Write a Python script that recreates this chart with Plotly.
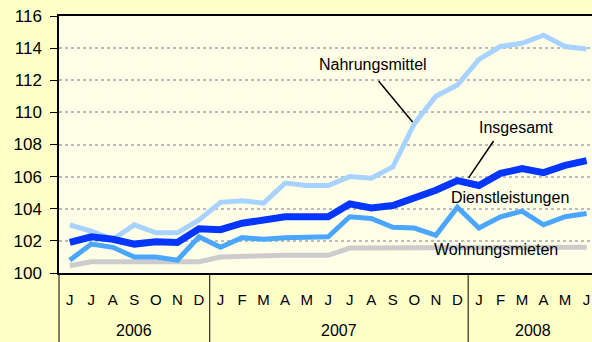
import plotly.graph_objects as go

# Monthly index values, June 2006 to June 2008
months = ["J", "J", "A", "S", "O", "N", "D",
          "J", "F", "M", "A", "M", "J", "J", "A", "S", "O", "N", "D",
          "J", "F", "M", "A", "M", "J"]
years = ["2006", "2007", "2008"]
year_centers = [3, 12.5, 21.5]
year_breaks = [6.5, 18.5]

insgesamt = [101.9, 102.25, 102.1, 101.8, 101.95, 101.9, 102.75,
             102.7, 103.1, 103.35, 103.5, 103.5, 103.5, 104.3, 104.05, 104.2, 104.65, 105.15, 105.75,
             105.45, 106.2, 106.5, 106.25, 106.7, 107.0]
nahrungsmittel = [103.0, 102.6, 102.1, 103.0, 102.5, 102.5, 103.3,
                  104.4, 104.5, 104.35, 105.6, 105.45, 105.45, 106.0, 105.9, 106.6, 109.3, 111.0, 111.7,
                  113.3, 114.1, 114.3, 114.8, 114.1, 113.95]
dienstleistungen = [100.8, 101.8, 101.6, 101.0, 101.0, 100.8, 102.25,
                    101.6, 102.2, 102.1, 102.2, 102.25, 102.25, 103.5, 103.4, 102.85, 102.8, 102.35, 104.1,
                    102.8, 103.5, 103.85, 103.0, 103.5, 103.7]
wohnungsmieten = [100.45, 100.7, 100.7, 100.7, 100.7, 100.7, 100.7,
                  101.0, 101.05, 101.1, 101.1, 101.1, 101.1, 101.55, 101.55, 101.55, 101.55, 101.55, 101.6,
                  101.6, 101.6, 101.6, 101.6, 101.6, 101.6]

x = list(range(len(months)))
x_range = [-0.5, 24.25]

fig = go.Figure()
series = [
    ("Wohnungsmieten", wohnungsmieten, "#CCCCCC", 5),
    ("Nahrungsmittel", nahrungsmittel, "#A8D3FF", 5),
    ("Dienstleistungen", dienstleistungen, "#4AA6FF", 5),
    ("Insgesamt", insgesamt, "#0536FF", 7),
]
for name, vals, color, w in series:
    fig.add_trace(go.Scatter(x=x, y=vals, mode="lines", name=name,
                             line=dict(color=color, width=w), hoverinfo="skip"))

font = "Liberation Sans, Arial, sans-serif"

# Series labels with leader lines
labels = [
    ("Nahrungsmittel", 14.06, 112.95),
    ("Insgesamt", 20.70, 109.03),
    ("Dienstleistungen", 20.42, 104.73),
    ("Wohnungsmieten", 19.77, 101.49),
]
annotations = [dict(x=lx, y=ly, text=t, showarrow=False, xref="x", yref="y",
                    xanchor="center", yanchor="middle",
                    font=dict(family=font, size=16, color="#000000"))
               for t, lx, ly in labels]

shapes = [
    dict(type="line", xref="x", yref="y", x0=14.34, y0=111.95, x1=15.92, y1=109.40,
         line=dict(color="#000000", width=1.5)),
    dict(type="line", xref="x", yref="y", x0=19.68, y0=108.22, x1=18.52, y1=105.92,
         line=dict(color="#000000", width=1.5)),
]

# Year labels and separators below the axis
span = x_range[1] - x_range[0]
for yr, c in zip(years, year_centers):
    annotations.append(dict(x=c, y=-0.225, xref="x", yref="paper", text=yr, showarrow=False,
                            xanchor="center", yanchor="middle",
                            font=dict(family=font, size=16, color="#000000")))
for b in year_breaks + [x_range[0]]:
    px = (b - x_range[0]) / span
    shapes.append(dict(type="line", xref="paper", yref="paper", x0=px, x1=px, y0=0, y1=-0.3,
                       line=dict(color="#000000", width=1)))

fig.update_layout(
    width=592, height=342,
    margin=dict(l=59, r=0, t=16, b=69),
    paper_bgcolor="#FFFFC8",
    plot_bgcolor="#FFFFE8",
    showlegend=False,
    annotations=annotations,
    shapes=shapes,
    font=dict(family=font, color="#000000"),
)
fig.update_xaxes(range=x_range, tickvals=x, ticktext=months, showgrid=False,
                 showline=True, linecolor="#000000", linewidth=1.5, mirror=True,
                 ticks="", tickfont=dict(size=15), ticklabelstandoff=12, zeroline=False)
fig.update_yaxes(range=[100, 116], tickvals=list(range(100, 117, 2)), showgrid=True,
                 gridcolor="#BBBBBB", gridwidth=2, griddash="dot",
                 showline=True, linecolor="#000000", linewidth=1.5,
                 ticks="outside", ticklen=7, tickcolor="#000000",
                 tickfont=dict(size=17), zeroline=False, ticklabelstandoff=5)

fig.write_html("out.html")
